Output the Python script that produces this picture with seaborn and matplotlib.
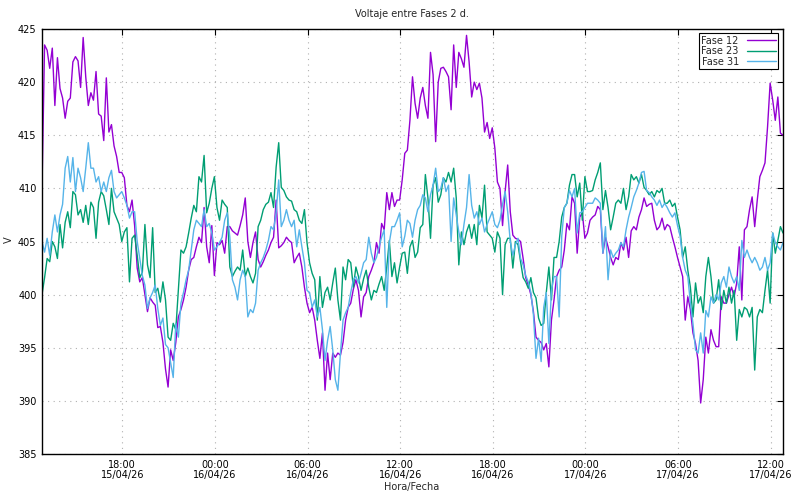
import pandas as pd
import numpy as np
import matplotlib
matplotlib.use("Agg")
import matplotlib.pyplot as plt
import matplotlib.dates as mdates
import seaborn as sns
from matplotlib.lines import Line2D

# ---- data (10-minute samples starting 15/04/26 12:48) ----
start_time = "2026-04-15 12:48"
series_names = ["Fase 12", "Fase 23", "Fase 31"]
series_colors = ["#9400d3", "#009e73", "#56b4e9"]

fase12 = [
    410.0, 423.5, 423.0, 421.3, 423.2, 417.8, 422.3, 419.4, 418.5, 416.6,
    418.2, 418.5, 421.9, 422.4, 422.0, 419.5, 424.2, 420.5, 417.8, 419.0,
    418.3, 421.0, 417.0, 416.8, 414.5, 420.4, 415.3, 416.0, 414.0, 413.0,
    411.5, 411.5, 411.0, 408.4, 407.8, 408.9, 406.5, 402.5, 401.2, 401.6,
    400.0, 398.4, 399.7, 399.3, 399.0, 396.9, 397.0, 395.5, 393.0, 391.3,
    394.8, 393.8, 395.5, 397.9, 398.6, 399.5, 400.7, 402.3, 403.3, 403.5,
    404.5, 405.4, 404.9, 408.2, 404.5, 403.0, 406.5, 401.8, 404.9, 404.7,
    405.1, 403.9, 406.4, 406.4, 406.0, 405.8, 405.6, 406.5, 407.5, 409.1,
    405.0, 403.5, 404.9, 405.9, 403.3, 402.6, 403.1, 403.7, 404.2, 404.9,
    405.4, 408.9, 404.4, 404.6, 404.9, 405.4, 405.1, 404.9, 403.0, 403.5,
    403.9, 402.6, 400.7, 399.2, 398.3, 398.8, 397.6, 395.7, 394.0, 396.4,
    391.0, 394.5, 392.0, 394.5, 394.1, 394.5, 394.3, 395.5, 397.6, 398.8,
    399.2, 400.5, 401.4, 400.4, 397.9, 399.8, 400.2, 401.7, 402.3, 403.0,
    404.9, 403.9, 406.7, 406.1, 409.6, 408.0, 409.6, 408.3, 408.9, 408.9,
    410.8, 413.3, 413.6, 416.4, 420.5, 418.0, 416.6, 418.5, 419.5, 417.8,
    416.6, 422.8, 420.7, 414.4, 420.0, 421.3, 421.4, 421.0, 420.5, 417.4,
    423.5, 419.5, 422.8, 422.2, 421.4, 424.4, 421.9, 418.6, 420.0, 419.3,
    419.9, 418.5, 415.3, 416.2, 414.7, 415.7, 413.8, 410.6, 410.0, 406.5,
    409.7, 412.2, 407.8, 405.6, 405.3, 405.2, 405.0, 403.4, 401.6, 400.9,
    400.0, 398.4, 396.0, 395.7, 395.5, 394.8, 395.4, 393.2, 397.6, 399.5,
    401.7, 402.3, 402.6, 404.2, 406.7, 406.1, 409.2, 408.6, 403.9, 407.3,
    407.7, 405.3, 405.8, 407.0, 407.3, 407.5, 408.3, 408.0, 403.9, 405.4,
    404.5, 403.5, 402.8, 403.5, 403.3, 404.9, 404.2, 405.4, 403.5, 406.0,
    406.4, 406.1, 407.3, 408.0, 409.1, 408.3, 408.5, 408.6, 407.0, 406.1,
    406.4, 407.2, 406.1, 406.6, 406.4, 405.4, 404.5, 403.5, 402.6, 401.7,
    397.6, 399.8, 398.6, 396.4, 395.4, 393.8, 389.8, 392.0, 396.0, 394.5,
    396.7, 395.7, 395.1, 395.1, 399.8, 399.2, 399.2, 400.0, 400.7, 399.8,
    401.1, 404.5, 399.5, 406.1, 406.4, 408.0, 409.2, 406.4, 408.9, 411.1,
    411.7, 412.4, 415.8, 419.9, 418.3, 416.4, 418.6, 415.2, 415.0,
]

fase23 = [
    400.0, 401.6, 403.4, 403.1, 405.0, 404.5, 403.4, 406.6, 404.4, 406.8,
    407.8, 406.3, 409.7, 409.4, 407.5, 408.0, 406.8, 408.4, 406.6, 408.7,
    408.2, 405.3, 408.7, 409.7, 409.3, 408.0, 406.6, 410.0, 407.8, 407.2,
    406.6, 405.0, 405.9, 406.3, 401.2, 405.3, 405.6, 403.7, 401.6, 402.1,
    406.6, 402.8, 401.6, 406.3, 400.2, 400.6, 399.3, 401.2, 399.5, 396.0,
    395.7, 397.3, 396.7, 400.4, 404.2, 403.9, 404.5, 405.8, 407.2, 408.4,
    407.8, 411.1, 410.6, 413.1, 407.7, 408.6, 410.0, 411.1, 408.2, 407.0,
    408.9, 408.5, 408.2, 402.6, 401.7, 402.2, 402.6, 402.3, 404.2, 401.7,
    402.5, 401.7, 401.1, 402.0, 406.4, 407.0, 408.0, 408.5, 408.7, 409.6,
    408.2, 412.0, 414.3, 410.1, 409.8, 409.2, 408.9, 408.8, 408.0, 407.8,
    407.0, 406.7, 408.0, 404.9, 403.0, 402.0, 401.4, 397.6, 401.7, 398.8,
    400.2, 400.7, 399.5, 401.1, 402.5, 399.5, 397.6, 402.6, 401.4, 403.3,
    403.0, 400.7, 402.6, 401.7, 400.4, 401.5, 402.3, 400.7, 399.5, 400.4,
    400.2, 401.0, 401.7, 400.4, 402.6, 405.1, 401.7, 403.0, 401.1, 402.6,
    403.9, 404.0, 402.0, 404.5, 405.1, 403.5, 404.0, 406.3, 406.6, 411.3,
    409.1, 405.3, 410.3, 411.0, 408.7, 409.4, 411.0, 410.6, 411.5, 410.6,
    411.9, 409.1, 402.8, 405.9, 404.7, 405.9, 406.6, 405.3, 406.6, 404.7,
    408.4, 407.2, 410.3, 405.9, 405.6, 405.3, 404.0, 405.9, 405.3, 400.0,
    404.7, 405.3, 405.3, 402.5, 405.0, 404.7, 403.1, 401.6, 401.2, 400.6,
    401.6, 400.2, 399.7, 397.8, 397.1, 397.3, 400.2, 402.6, 399.5, 403.5,
    403.5, 405.0, 407.3, 408.2, 408.6, 410.3, 411.3, 411.3, 409.2, 410.5,
    407.0, 411.1, 409.7, 409.7, 409.8, 410.8, 411.5, 412.4, 408.0, 409.8,
    408.2, 406.1, 407.3, 408.6, 408.9, 408.6, 410.0, 408.0, 409.2, 411.3,
    410.8, 411.1, 410.5, 411.3, 410.1, 409.8, 409.4, 409.7, 409.2, 409.8,
    409.6, 410.0, 408.6, 408.6, 408.9, 408.3, 408.6, 407.3, 406.1, 403.5,
    404.5, 402.3, 400.7, 397.9, 401.1, 399.2, 399.8, 398.3, 401.7, 403.5,
    401.7, 399.2, 399.5, 401.4, 398.6, 400.4, 399.2, 400.7, 399.2, 400.4,
    395.7, 398.6, 397.9, 398.8, 398.6, 397.9, 398.8, 392.9, 397.9, 398.6,
    398.3, 400.4, 402.3, 399.2, 405.8, 403.9, 405.1, 406.4, 405.8,
]

fase31 = [
    405.0, 404.0, 405.3, 403.7, 405.9, 407.5, 405.9, 407.5, 408.5, 411.9,
    413.0, 410.6, 412.9, 409.7, 411.9, 411.0, 409.7, 411.9, 414.3, 411.9,
    411.9, 410.6, 411.1, 409.7, 410.6, 409.7, 411.0, 411.7, 409.7, 409.1,
    409.4, 409.7, 409.1, 408.4, 407.2, 407.8, 407.8, 405.0, 403.4, 401.8,
    400.9, 398.7, 399.7, 400.2, 400.9, 398.7, 397.1, 397.8, 395.3, 395.0,
    393.6, 392.2, 397.3, 396.0, 399.2, 400.2, 401.4, 402.3, 404.2, 406.1,
    407.0, 406.7, 406.4, 408.0, 406.4, 406.7, 405.8, 404.2, 404.5, 404.9,
    405.4, 407.0, 407.7, 405.4, 401.4, 400.7, 399.5, 401.4, 402.3, 401.7,
    397.9, 398.6, 398.3, 399.2, 402.3, 403.0, 403.5, 404.2, 405.1, 406.4,
    406.1, 407.7, 410.8, 406.4, 407.0, 408.0, 407.0, 406.4, 407.0, 404.5,
    406.1, 404.5, 403.0, 400.4, 400.2, 398.8, 399.5, 397.9, 398.8, 396.7,
    393.8, 395.7, 397.0, 394.8, 392.0, 391.0, 394.5, 397.6, 398.3, 398.8,
    400.2, 401.4, 401.7, 401.1, 402.0, 403.0, 403.3, 405.4, 403.9, 403.0,
    403.5, 404.5, 405.4, 406.1, 398.8, 404.9, 406.4, 406.4, 407.0, 407.7,
    404.5, 405.5, 407.0, 406.7, 405.4, 407.0, 408.0, 408.4, 409.4, 409.1,
    407.8, 409.4, 410.3, 411.9, 409.7, 410.0, 411.0, 409.7, 410.3, 405.0,
    409.1, 407.5, 405.9, 404.7, 406.6, 408.2, 411.3, 408.4, 407.2, 407.8,
    406.6, 407.2, 405.9, 406.6, 407.2, 407.8, 406.6, 406.3, 407.0, 408.5,
    409.7, 407.8, 405.0, 403.7, 404.7, 405.3, 403.4, 402.8, 401.8, 401.2,
    400.2, 398.1, 394.0, 395.9, 393.7, 398.8, 400.2, 395.4, 400.4, 401.7,
    401.7, 397.9, 405.5, 408.2, 408.6, 409.8, 409.2, 410.0, 405.8, 407.7,
    407.8, 408.2, 408.6, 408.6, 408.6, 409.1, 408.9, 408.6, 403.9, 406.4,
    401.4, 404.2, 403.5, 403.9, 404.2, 404.9, 404.5, 406.1, 407.3, 408.2,
    409.2, 409.8, 410.5, 411.5, 411.6, 409.8, 409.6, 409.2, 408.9, 408.4,
    408.9, 408.2, 408.6, 408.2, 407.7, 407.3, 407.7, 406.5, 405.5, 403.5,
    402.3, 401.7, 399.2, 397.3, 394.8, 394.5, 396.4, 394.5, 398.5, 397.9,
    399.8, 399.2, 400.0, 399.5, 401.1, 401.7, 400.7, 402.6, 401.7, 401.1,
    401.7, 400.4, 405.1, 403.5, 404.2, 403.5, 403.0, 403.5, 403.0, 402.3,
    402.6, 403.5, 402.3, 403.0, 405.8, 404.9, 404.5, 404.2, 404.9,
]

y_ticks = [385, 390, 395, 400, 405, 410, 415, 420, 425]

# ---- build long-format table ----
frames = []
for name, vals in zip(series_names, [fase12, fase23, fase31]):
    t = pd.date_range(start_time, periods=len(vals), freq="10min")
    frames.append(pd.DataFrame({"Hora": t, "V": vals, "Serie": name}))
df = pd.concat(frames, ignore_index=True)

sns.set_style("white")
plt.rcParams["font.family"] = ["DejaVu Sans"]
plt.rcParams["font.size"] = 7

fig = plt.figure(figsize=(8.0, 4.94), dpi=100)
ax = fig.add_axes([42 / 800, 1 - 454 / 494, 741 / 800, 425 / 494])

sns.lineplot(data=df, x="Hora", y="V", hue="Serie", hue_order=series_names,
             palette=series_colors, linewidth=1.0, ax=ax, legend=False,
             estimator=None)

ax.set_xlim(df["Hora"].min(), df["Hora"].max())
ax.set_ylim(385, 425)
ax.set_yticks(y_ticks)

ax.xaxis.set_major_locator(mdates.HourLocator(byhour=[0, 6, 12, 18]))
ax.xaxis.set_major_formatter(mdates.DateFormatter("%H:%M\n%d/%m/%y"))

ax.grid(True, color="#b0b0b0", linestyle=(0, (1, 4)), linewidth=0.8)
ax.set_axisbelow(True)

for sp in ax.spines.values():
    sp.set_color("black")
    sp.set_linewidth(1.0)
    sp.set_visible(True)

ax.tick_params(axis="both", which="major", direction="in", length=4.5,
               width=0.8, top=True, right=True, labelsize=7, pad=4,
               colors="black")
for lbl in ax.get_xticklabels():
    lbl.set_horizontalalignment("center")
    lbl.set_multialignment("center")
    lbl.set_linespacing(1.05)

ax.set_xlabel("")
ax.set_ylabel("")
fig.text(412 / 800, 1 - 14 / 494, "Voltaje entre Fases 2 d.", fontsize=7,
         ha="center", va="center")
fig.text(412 / 800, 1 - 487 / 494, "Hora/Fecha", fontsize=7,
         ha="center", va="center")
fig.text(9 / 800, 1 - 240 / 494, "V", fontsize=7, rotation=90,
         ha="center", va="center")

handles = [Line2D([0], [0], color=c, lw=1.0) for c in series_colors]
leg = ax.legend(handles, series_names, loc="upper right",
                bbox_to_anchor=(0.9975, 0.997), markerfirst=False,
                fontsize=7, frameon=True, fancybox=False, framealpha=1,
                edgecolor="black", handlelength=3.0, handletextpad=0.8,
                borderpad=0.25, labelspacing=0.05, borderaxespad=0.3)
leg.get_frame().set_linewidth(0.8)

fig.savefig("out.png", dpi=100)
